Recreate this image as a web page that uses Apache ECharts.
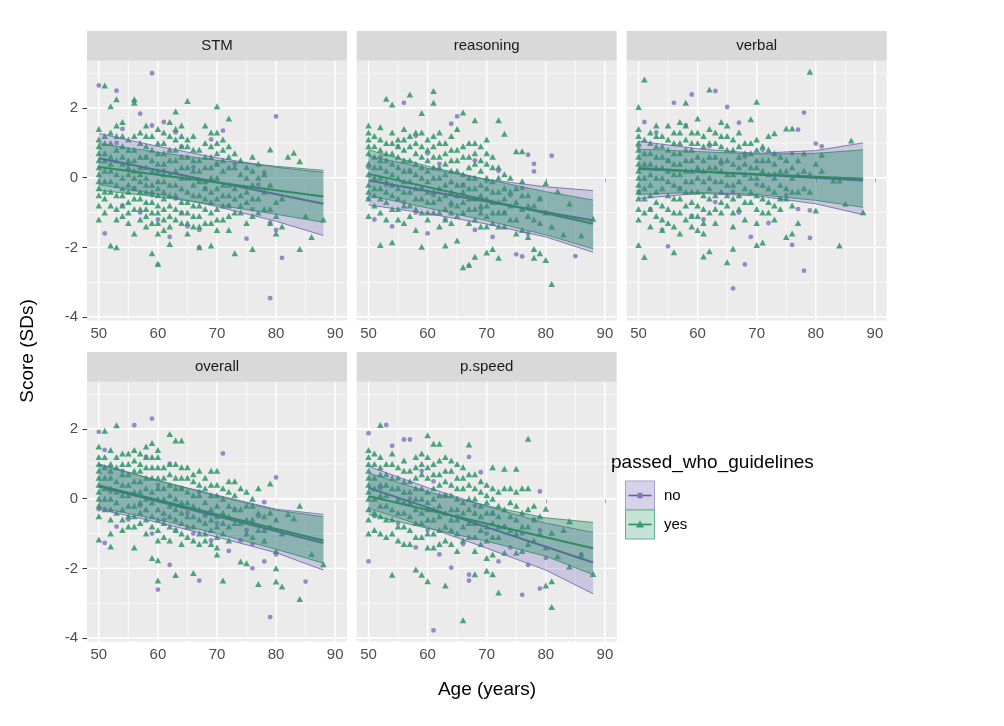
<!DOCTYPE html>
<html><head><meta charset="utf-8">
<script src="https://cdn.jsdelivr.net/npm/echarts@6/dist/echarts.min.js"></script>
<style>html,body{margin:0;padding:0;background:#fff}#c{width:1004px;height:726px}</style>
</head><body><div id="c"></div>
<script>
const panelNames = ['STM','reasoning','verbal','overall','p.speed'];
const groupNames = ['no','yes'];
const xTicks = [50,60,70,80,90];
const yTicks = [-4,-2,0,2];
const xMinor = [55,65,75,85];
const yMinor = [-3,-1,1,3];

// ---- points: "yes" as [age, [scores]], "no" as [age, score] ----
const stmYes = [
[50,[1.4,1.1,0.9,0.7,0.5,0.3,0.1,-0.1,-0.3,-0.5,-0.8,-1.2]],
[51,[2.65,1.2,1.0,0.7,0.5,0.2,-0.1,-0.4,-0.6,-1.0]],
[52,[2.05,1.3,1.0,0.6,0.4,0.2,-0.1,-0.4,-0.8,-1.95]],
[53,[2.25,1.5,1.2,0.8,0.5,0.1,-0.2,-0.5,-0.9,-1.2,-2.0]],
[54,[1.6,1.2,0.9,0.6,0.4,0.0,-0.3,-0.5,-0.8,-1.1]],
[55,[1.1,0.8,0.5,0.3,0.1,-0.2,-0.4,-0.7,-1.0,-1.3]],
[56,[2.25,2.15,1.2,0.8,0.5,0.2,0.0,-0.3,-0.6,-0.9,-1.6]],
[57,[1.3,1.0,0.6,0.3,0.1,-0.1,-0.4,-0.6,-0.9,-1.2]],
[58,[1.5,1.2,0.9,0.6,0.3,0.0,-0.2,-0.4,-0.7,-0.9,-1.1,-1.4]],
[59,[1.2,0.8,0.5,0.2,-0.2,-0.4,-0.7,-1.0,-1.3,-2.17]],
[60,[1.4,1.0,0.7,0.4,0.2,-0.1,-0.3,-0.5,-0.8,-1.0,-1.3,-1.6,-2.47]],
[61,[1.3,1.0,0.7,0.4,0.1,-0.1,-0.4,-0.6,-0.9,-1.2,-1.5]],
[62,[1.6,1.2,0.8,0.5,0.1,-0.2,-0.5,-0.8,-1.1,-1.4,-1.9]],
[63,[1.9,1.4,1.1,0.8,0.5,0.2,-0.2,-0.5,-0.9,-1.2]],
[64,[1.5,1.2,0.9,0.6,0.3,0.0,-0.3,-0.7,-1.0,-1.3]],
[65,[2.2,1.1,0.9,0.6,0.3,0.0,-0.4,-0.7,-1.0,-1.3,-1.6]],
[66,[1.2,0.8,0.5,0.2,-0.2,-0.5,-0.8,-1.1,-1.4]],
[67,[0.8,0.5,0.2,-0.1,-0.5,-0.8,-1.1,-1.4,-2.0]],
[68,[1.5,1.0,0.6,0.3,-0.1,-0.3,-0.6,-0.9,-1.3]],
[69,[1.3,0.9,0.6,0.3,0.0,-0.4,-0.7,-1.0,-1.3,-1.95]],
[70,[2.05,1.3,1.0,0.7,0.4,0.0,-0.3,-0.6,-0.9,-1.2,-1.5]],
[71,[1.1,0.8,0.5,0.2,-0.2,-0.5,-0.8,-1.2]],
[72,[1.7,0.9,0.6,0.3,-0.2,-0.5,-0.8,-1.1,-1.5]],
[73,[0.7,0.3,-0.3,-0.6,-1.0,-2.17]],
[74,[0.5,0.1,-0.5,-0.8,-1.0]],
[75,[0.3,0.0,-0.4,-0.7,-1.3]],
[76,[0.6,0.2,-0.2,-0.6,-1.1,-2.05]],
[77,[0.4,0.0,-0.6,-1.0]],
[78,[0.1,-0.4,-0.9]],
[79,[0.81,-0.2,-0.9,-1.3]],
[80,[-0.7,-1.1,-1.6]],
[81,[-0.6,-1.4]],
[82,[0.6]],[83,[0.72]],[84,[0.47,-2.05]],[85,[-1.1]],[86,[-1.7]],[88,[-1.2]]
];
const stmNo = [[50,2.65],[51,-1.6],[53,2.5],[53,1.0],[54,1.4],[54,-0.8],[55,0.4],[56,2.2],[56,-0.3],[57,1.84],[57,-1.0],[58,0.6],[59,3.0],[59,1.5],[59,-0.5],[60,-1.2],[60,-2.5],[61,1.6],[61,0.2],[62,-1.7],[63,1.3],[63,-0.6],[64,0.9],[64,-1.0],[65,-1.4],[66,0.3],[67,-1.5],[67,-2.0],[68,-0.3],[69,1.1],[70,0.4],[71,1.35],[72,-0.8],[73,0.4],[75,-1.75],[76,-0.9],[77,-0.2],[78,0.15],[79,-3.46],[79,-1.3],[80,1.76],[80,-1.5],[81,-2.3]];

const reasYes = [
[50,[1.5,1.3,1.1,0.9,0.7,0.4,0.1,-0.2,-0.4,-0.6,-1.1]],
[51,[1.2,0.9,0.6,0.3,0.0,-0.3,-0.5,-0.8]],
[52,[1.45,1.1,0.8,0.5,0.3,0.0,-0.3,-0.6,-1.0,-1.93]],
[53,[2.27,1.0,0.7,0.5,0.2,-0.1,-0.4,-0.7,-1.2]],
[54,[2.1,1.3,1.0,0.7,0.4,0.1,-0.2,-0.5,-0.9,-1.85]],
[55,[1.1,0.9,0.6,0.3,0.0,-0.3,-0.6,-0.9,-1.2]],
[56,[1.4,1.1,0.8,0.5,0.2,-0.1,-0.4,-0.8,-1.3]],
[57,[2.39,1.2,0.9,0.5,0.2,-0.1,-0.4,-0.8,-1.1]],
[58,[1.3,1.0,0.7,0.4,0.1,-0.3,-0.6,-0.9,-1.5]],
[59,[1.86,1.3,0.9,0.6,0.3,0.0,-0.3,-0.6,-1.0,-1.98]],
[60,[1.1,0.8,0.5,0.2,-0.1,-0.4,-0.7,-1.0,-1.2]],
[61,[2.49,2.15,1.2,0.9,0.6,0.3,0.0,-0.4,-0.7,-1.0]],
[62,[1.3,1.0,0.6,0.3,0.0,-0.3,-0.6,-1.0,-1.4]],
[63,[1.0,0.7,0.4,0.1,-0.2,-0.5,-0.9,-1.2,-1.95]],
[64,[1.2,0.8,0.5,0.2,-0.1,-0.4,-0.7,-1.0,-1.3]],
[65,[1.4,0.8,0.5,0.2,-0.2,-0.5,-0.8,-1.1,-1.8]],
[66,[1.87,0.9,0.6,0.1,-0.2,-0.4,-0.7,-1.0,-2.57]],
[67,[1.0,0.6,0.3,0.0,-0.3,-0.6,-0.9,-1.3,-2.5]],
[68,[1.65,1.0,0.7,0.4,0.0,-0.3,-0.6,-0.9,-1.2,-2.27]],
[69,[0.9,0.5,0.2,-0.2,-0.5,-0.8,-1.0,-1.4]],
[70,[1.1,0.7,0.4,0.0,-0.3,-0.6,-0.8,-1.1,-1.4,-2.15]],
[71,[0.6,0.3,-0.1,-0.4,-0.7,-1.0,-1.3,-2.05]],
[72,[1.65,0.3,0.0,-0.4,-0.7,-1.0,-1.4,-2.3]],
[73,[1.26,0.1,-0.3,-0.6,-1.0,-1.4]],
[74,[0.0,-0.4,-0.8,-1.2]],
[75,[0.76,-0.3,-0.7,-1.2,-1.6]],
[76,[0.76,-0.1,-0.5,-0.9,-1.5]],
[77,[-0.5,-0.8,-1.1,-1.7]],
[78,[-0.8,-1.2,-2.05,-2.3]],
[79,[-0.6,-1.3,-2.17]],
[80,[-0.15,-1.0,-2.36]],
[81,[-1.4,-3.05]],
[82,[-0.39]],[83,[-1.63]],[84,[-0.75]],[86,[-1.66]],[88,[-1.18]]
];
const reasNo = [[50,-0.6],[50,0.3],[51,-1.2],[52,0.6],[53,-0.2],[54,-1.4],[55,0.9],[56,2.15],[56,-0.7],[57,0.2],[58,1.2],[58,-1.0],[59,-0.3],[60,0.7],[60,-1.6],[61,-0.5],[62,0.4],[63,-1.2],[64,1.55],[64,-0.8],[65,1.76],[66,-0.2],[67,-2.53],[68,0.5],[68,-1.5],[69,-0.9],[70,-0.1],[71,-1.7],[72,0.2],[73,-1.0],[74,-0.5],[75,-2.2],[76,-2.26],[76,-0.3],[77,0.66],[77,-1.6],[78,0.4],[78,0.18],[79,-0.6],[80,-1.0],[81,0.63],[85,-2.25]];

const verbYes = [
[50,[2.03,1.4,1.2,1.0,0.8,0.6,0.4,0.2,0.0,-0.2,-0.4,-0.6,-0.9,-1.2,-1.93]],
[51,[2.82,1.1,0.7,0.4,0.0,-0.3,-0.6,-1.0,-2.28]],
[52,[1.3,1.0,0.7,0.4,0.1,-0.2,-0.5,-0.9,-1.4]],
[53,[1.5,1.2,0.9,0.6,0.3,0.0,-0.4,-0.7,-1.1]],
[54,[1.2,0.9,0.6,0.3,0.0,-0.3,-0.8,-1.2,-1.5]],
[55,[1.5,1.1,0.8,0.5,0.2,-0.1,-0.5,-0.9,-1.3]],
[56,[1.3,1.0,0.7,0.4,0.1,-0.2,-0.6,-1.0,-1.4,-2.14]],
[57,[1.6,1.3,1.0,0.7,0.4,0.1,-0.3,-0.6,-1.0,-1.6]],
[58,[2.15,1.5,1.1,0.8,0.5,0.2,-0.1,-0.4,-0.8,-1.2]],
[59,[1.3,1.0,0.8,0.5,0.2,-0.1,-0.4,-0.7,-1.1,-1.4]],
[60,[1.7,1.3,1.0,0.6,0.3,0.0,-0.4,-0.8,-1.1,-1.5]],
[61,[1.2,0.9,0.5,0.2,-0.1,-0.5,-0.9,-1.3,-1.6,-2.26]],
[62,[2.53,1.4,1.0,0.6,0.3,0.0,-0.3,-0.6,-1.0,-2.11]],
[63,[1.3,1.0,0.6,0.3,-0.1,-0.5,-0.9,-1.3]],
[64,[1.6,1.2,0.9,0.5,0.2,-0.1,-0.4,-0.7,-1.0]],
[65,[1.5,1.2,0.8,0.5,0.1,-0.2,-0.5,-0.8,-2.43]],
[66,[1.1,0.8,0.4,0.1,-0.2,-0.6,-1.0,-1.4,-2.04]],
[67,[1.3,0.9,0.6,0.3,-0.1,-0.5,-0.9]],
[68,[1.0,0.7,0.4,0.1,-0.3,-0.7,-1.2]],
[69,[1.68,1.0,0.7,0.3,0.0,-0.4,-0.7]],
[70,[2.18,1.1,0.8,0.5,0.3,0.0,-0.5,-0.9,-1.3,-1.93]],
[71,[0.9,0.5,0.2,-0.2,-0.6,-1.0,-1.86]],
[72,[1.2,0.8,0.5,0.1,-0.3,-0.7,-1.0]],
[73,[1.28,0.7,0.4,0.0,-0.4,-0.8,-1.2]],
[74,[0.6,0.2,-0.2,-0.6,-0.9]],
[75,[1.41,0.5,0.2,-0.3,-0.6,-1.7]],
[76,[1.41,0.3,0.0,-0.4,-0.8,-1.6]],
[77,[0.5,0.1,-0.4,-1.3]],
[78,[0.7,0.2,-0.3]],
[79,[3.04,0.1,-0.4]],
[80,[0.4,-0.94]],
[81,[0.66,0.2]],
[83,[-0.08]],[84,[-0.08,-1.95]],[85,[-0.75]],[86,[1.07]],[88,[-0.99]]
];
const verbNo = [[50,0.9],[50,-0.4],[51,1.6],[52,-0.9],[53,1.3],[54,-1.5],[55,-1.97],[55,0.5],[56,2.15],[57,-0.3],[58,1.5],[59,2.39],[59,-1.1],[60,0.2],[61,-1.2],[62,0.9],[63,2.49],[63,-0.7],[64,0.4],[65,2.03],[66,-3.18],[66,-0.4],[67,1.58],[67,-1.0],[68,-2.49],[68,0.6],[69,-1.7],[70,-0.2],[71,0.8],[72,-1.3],[73,0.1],[74,-0.6],[75,-0.5],[76,-1.93],[76,0.7],[77,1.38],[77,-0.9],[78,1.87],[78,-2.67],[79,-0.94],[79,-1.73],[80,0.98],[81,0.9]];

const overYes = [
[50,[1.5,1.2,1.0,0.8,0.6,0.4,0.2,0.0,-0.2,-0.5,-1.17]],
[51,[1.95,1.2,0.9,0.6,0.3,0.0,-0.3]],
[52,[1.4,1.0,0.8,0.6,0.3,0.0,-0.3,-0.6,-1.0,-1.37]],
[53,[2.11,1.2,0.9,0.5,0.2,-0.1,-0.4]],
[54,[1.3,1.0,0.7,0.4,0.1,-0.3,-0.6,-0.9]],
[55,[1.3,1.0,0.7,0.4,0.1,-0.2,-0.5,-0.8]],
[56,[1.4,1.1,0.8,0.5,0.2,-0.2,-0.5,-0.8,-1.4]],
[57,[1.3,1.0,0.8,0.5,0.2,-0.1,-0.4,-0.7]],
[58,[1.5,1.2,0.9,0.6,0.3,0.0,-0.3,-0.6,-1.0]],
[59,[1.6,1.2,0.9,0.6,0.2,-0.1,-0.5,-0.8,-1.7]],
[60,[1.4,1.2,0.9,0.6,0.3,0.0,-0.3,-0.6,-0.9,-1.2,-1.77,-2.35]],
[61,[0.9,0.6,0.3,0.0,-0.4,-0.7,-1.1]],
[62,[1.86,1.0,0.7,0.4,0.1,-0.2,-0.5,-0.8,-1.2]],
[63,[1.67,1.0,0.6,0.3,0.0,-0.3,-0.6,-0.9,-2.19]],
[64,[1.67,0.9,0.6,0.3,-0.1,-0.4,-0.7,-1.0,-1.3]],
[65,[0.9,0.6,0.2,-0.1,-0.5,-0.8,-1.1]],
[66,[0.7,0.5,0.1,-0.2,-0.5,-0.8,-1.2,-2.13]],
[67,[0.8,0.4,0.1,-0.3,-0.6,-1.0,-1.3]],
[68,[0.6,0.3,-0.1,-0.4,-0.7,-1.0,-1.2]],
[69,[0.8,0.4,0.1,-0.3,-0.6,-0.9,-1.3]],
[70,[0.8,0.4,0.1,-0.2,-0.5,-0.8,-1.1,-1.4,-1.6]],
[71,[0.3,0.0,-0.4,-0.7,-1.0,-2.35]],
[72,[0.5,0.2,-0.2,-0.5,-0.8,-1.2]],
[73,[0.5,0.1,-0.3,-0.7]],
[74,[0.3,-0.3,-0.7,-1.8]],
[75,[0.2,-0.2,-0.6,-1.0,-1.85]],
[76,[0.0,-0.2,-0.6,-1.1]],
[77,[0.3,-0.4,-0.9,-2.45]],
[78,[-0.5,-0.9,-1.2]],
[79,[0.44,-0.4,-0.8]],
[80,[-0.6,-1.5,-2.0,-2.38]],
[81,[-1.0,-2.52]],
[82,[-0.44]],[83,[-0.56]],[84,[-0.2,-2.88]],[86,[-1.59]],[88,[-1.88]]
];
const overNo = [[50,1.92],[50,-0.3],[51,-1.27],[51,1.4],[52,0.2],[53,-0.8],[54,0.8],[55,-0.6],[56,2.11],[57,-0.2],[58,1.2],[59,2.3],[59,-1.0],[60,0.4],[60,-2.61],[61,-0.6],[62,-1.9],[62,1.0],[63,-0.9],[64,0.3],[65,-0.4],[66,-1.0],[67,-2.35],[67,0.2],[68,-0.5],[69,-1.2],[70,-0.7],[71,1.3],[72,-1.5],[73,-0.3],[74,-1.2],[75,-0.9],[76,-2.0],[76,-1.3],[77,-0.5],[78,-0.1],[78,-1.8],[79,-3.4],[80,0.61],[80,-1.6],[85,-2.38]];

const pspYes = [
[50,[1.4,1.2,1.0,0.8,0.6,0.4,0.2,0.0,-0.3,-0.6,-1.0]],
[51,[1.3,1.0,0.6,0.3,0.0,-0.4,-0.9]],
[52,[2.12,1.2,0.9,0.7,0.4,0.1,-0.2,-0.5,-1.0]],
[53,[1.0,0.7,0.4,0.1,-0.2,-0.6,-1.1]],
[54,[1.3,1.0,0.6,0.3,-0.3,-0.6,-1.0,-2.18]],
[55,[0.9,0.6,0.3,0.0,-0.4,-0.8,-1.2]],
[56,[1.1,0.8,0.5,0.2,-0.1,-0.4,-0.8,-1.3]],
[57,[0.8,0.5,0.2,-0.1,-0.5,-0.9,-1.3]],
[58,[1.2,0.9,0.6,0.3,0.0,-0.3,-0.7,-1.1,-2.03]],
[59,[1.3,1.0,0.7,0.3,0.0,-0.4,-0.7,-1.1,-2.18]],
[60,[1.82,1.2,0.9,0.6,0.2,-0.1,-0.3,-0.6,-1.0,-1.4,-2.37]],
[61,[1.58,1.0,0.7,0.3,0.0,-0.3,-0.6,-1.0,-1.4]],
[62,[1.58,1.1,0.7,0.4,0.1,-0.2,-0.5,-0.9,-1.3]],
[63,[1.2,0.8,0.5,0.1,-0.4,-0.8,-1.2,-2.49]],
[64,[1.1,0.8,0.4,0.1,-0.3,-0.6,-0.9,-1.3]],
[65,[1.0,0.6,0.3,0.0,-0.3,-0.6,-1.0,-1.5]],
[66,[0.9,0.6,0.3,-0.1,-0.4,-0.8,-1.2,-3.49]],
[67,[1.56,0.7,0.4,0.0,-0.3,-0.7,-1.1]],
[68,[0.7,0.3,0.0,-0.4,-0.7,-1.1,-1.5,-2.17]],
[69,[0.5,0.2,-0.2,-0.5,-0.9,-1.3]],
[70,[0.4,0.1,-0.1,-0.4,-0.8,-1.2,-1.7,-2.07]],
[71,[0.9,0.3,0.0,-0.4,-0.7,-1.1,-1.6,-2.17]],
[72,[0.2,-0.2,-0.5,-0.8,-1.1,-2.69]],
[73,[0.86,0.3,-0.3,-0.8,-1.55]],
[74,[0.3,-0.1,-0.5,-0.9]],
[75,[0.86,0.2,-0.2,-0.6,-1.0,-1.55]],
[76,[0.3,-0.4,-0.8,-1.5]],
[77,[1.72,0.3,-0.3,-0.8,-1.3]],
[78,[-0.2,-0.6,-1.2]],
[79,[-0.5,-1.0]],
[80,[-0.29,-1.4,-2.49]],
[81,[-0.98,-2.37,-3.11]],
[82,[-1.65]],[83,[-0.9]],[84,[-0.65,-1.95]],[86,[-1.6]],[88,[-2.16]]
];
const pspNo = [[50,1.88],[50,-1.8],[51,-0.5],[52,0.3],[53,2.12],[54,1.52],[55,-0.7],[56,1.7],[57,1.7],[57,0.0],[58,-1.4],[59,0.8],[60,-0.9],[61,-3.78],[61,0.5],[62,-1.6],[63,0.1],[64,-1.98],[65,-0.5],[66,-1.3],[67,1.2],[67,-2.18],[67,-2.35],[68,-0.2],[69,0.76],[70,-1.0],[71,-0.4],[72,-1.8],[73,-0.8],[74,-1.4],[76,-2.76],[76,-1.0],[77,-1.9],[78,-0.6],[79,0.21],[79,-0.9],[79,-2.58],[80,-1.7],[86,-1.6]];

// ---- fitted lines [age, score] and confidence bands [age, lower, upper] ----
const stmLineNo = [[50,0.56],[88,-0.75]];
const stmLineYes = [[50,0.31],[88,-0.54]];
const stmBandNo = [[50,-0.2,1.27],[60,-0.47,0.9],[70,-0.83,0.57],[80,-1.25,0.3],[88,-1.66,0.15]];
const stmBandYes = [[50,-0.36,0.98],[60,-0.55,0.73],[70,-0.78,0.5],[80,-1.05,0.33],[88,-1.28,0.21]];
const reasLineNo = [[50,-0.08],[88,-1.23]];
const reasLineYes = [[50,0.11],[88,-1.32]];
const reasBandNo = [[50,-0.78,0.62],[60,-1.03,0.27],[70,-1.33,-0.05],[80,-1.7,-0.26],[88,-2.14,-0.37]];
const reasBandYes = [[50,-0.51,0.8],[60,-0.87,0.33],[70,-1.23,-0.05],[80,-1.64,-0.4],[88,-2.04,-0.64]];
const verbLineNo = [[50,0.28],[88,-0.08]];
const verbLineYes = [[50,0.25],[88,-0.03]];
const verbBandNo = [[50,-0.6,1.05],[60,-0.45,0.83],[70,-0.52,0.7],[80,-0.75,0.78],[88,-1.06,1.0]];
const verbBandYes = [[50,-0.48,0.82],[60,-0.42,0.75],[70,-0.48,0.68],[80,-0.65,0.7],[88,-0.85,0.8]];
const overLineNo = [[50,0.35],[88,-1.27]];
const overLineYes = [[50,0.38],[88,-1.2]];
const overBandNo = [[50,-0.3,1.0],[60,-0.68,0.52],[70,-1.1,0.1],[80,-1.55,-0.3],[88,-2.05,-0.45]];
const overBandYes = [[50,-0.25,0.98],[60,-0.6,0.52],[70,-1.0,0.08],[80,-1.45,-0.33],[88,-1.85,-0.52]];
const pspLineNo = [[50,0.31],[88,-1.83]];
const pspLineYes = [[50,0.07],[88,-1.42]];
const pspBandNo = [[50,-0.27,0.93],[60,-0.82,0.32],[70,-1.42,-0.22],[80,-2.05,-0.7],[88,-2.73,-0.97]];
const pspBandYes = [[50,-0.46,0.74],[60,-0.85,0.2],[70,-1.22,-0.2],[80,-1.65,-0.55],[88,-2.18,-0.68]];

// ---- build ----
const FONT = '"Liberation Sans", Arial, Helvetica, sans-serif';
const C = {
  noPt: '#8478BF', yesPt: '#3A9A70',
  noLine: '#6A5DAE', yesLine: '#2E8B62',
  noFill: '#7B70BC', yesFill: '#2A9068'
};
const flat = arr => arr.flatMap(([x, ys]) => ys.map(y => [x, y]));
const panels = [
  [stmYes, stmNo, stmLineNo, stmLineYes, stmBandNo, stmBandYes],
  [reasYes, reasNo, reasLineNo, reasLineYes, reasBandNo, reasBandYes],
  [verbYes, verbNo, verbLineNo, verbLineYes, verbBandNo, verbBandYes],
  [overYes, overNo, overLineNo, overLineYes, overBandNo, overBandYes],
  [pspYes, pspNo, pspLineNo, pspLineYes, pspBandNo, pspBandYes]
];
const boxes = [[87,60.7],[356.7,60.7],[626.7,60.7],[87,381.7],[356.7,381.7]];
const W = 260, H = 259.8, STRIP = 29.6;
const X_MIN = 48, X_MAX = 92, Y_MIN = -4.1, Y_MAX = 3.36;

function gridRender(width) {
  return function (params, api) {
    const cs = params.coordSys;
    const p = api.coord([api.value(0), api.value(1)]);
    const horiz = api.value(2) === 0;
    return {
      type: 'line',
      shape: horiz ? {x1: cs.x, y1: p[1], x2: cs.x + cs.width, y2: p[1]}
                   : {x1: p[0], y1: cs.y, x2: p[0], y2: cs.y + cs.height},
      style: {stroke: '#FFFFFF', lineWidth: width}
    };
  };
}
function bandRender(fill, opacity) {
  return function (params, api) {
    if (params.dataIndexInside !== 0) return null;
    const n = params.dataInsideLength;
    const lo = [], up = [];
    for (let i = 0; i < n; i++) {
      const x = api.value(0, i);
      lo.push(api.coord([x, api.value(1, i)]));
      up.push(api.coord([x, api.value(2, i)]));
    }
    return {type: 'polygon', shape: {points: lo.concat(up.reverse())}, style: {fill: fill, opacity: opacity}};
  };
}

const grid = [], xAxis = [], yAxis = [], series = [], graphic = [];
boxes.forEach(([l, t], i) => {
  grid.push({left: l, top: t, width: W, height: H, show: true, backgroundColor: '#EBEBEB', borderWidth: 0});
  xAxis.push({
    type: 'value', gridIndex: i, min: X_MIN, max: X_MAX,
    axisLine: {show: false},
    axisTick: {show: true, length: 4.5, customValues: xTicks, lineStyle: {color: '#333333', width: 1}},
    axisLabel: {show: true, customValues: xTicks, color: '#4D4D4D', fontSize: 15, margin: 6, fontFamily: FONT},
    splitLine: {show: false}
  });
  const col0 = (i === 0 || i === 3);
  yAxis.push({
    type: 'value', gridIndex: i, min: Y_MIN, max: Y_MAX,
    axisLine: {show: false},
    axisTick: {show: col0, length: 4.5, customValues: yTicks, lineStyle: {color: '#333333', width: 1}},
    axisLabel: {show: col0, customValues: yTicks, color: '#4D4D4D', fontSize: 15, margin: 9, fontFamily: FONT},
    splitLine: {show: false}
  });
  const [yes, no, lineNo, lineYes, bandNo, bandYes] = panels[i];
  const ax = {xAxisIndex: i, yAxisIndex: i, silent: true, animation: false};
  series.push(Object.assign({type: 'custom', z: 1, renderItem: gridRender(0.7), encode: {x: 0, y: 1},
    data: xMinor.map(v => [v, 0, 1]).concat(yMinor.map(v => [70, v, 0]))}, ax));
  series.push(Object.assign({type: 'custom', z: 1, renderItem: gridRender(1.4), encode: {x: 0, y: 1},
    data: xTicks.map(v => [v, 0, 1]).concat(yTicks.map(v => [70, v, 0]))}, ax));
  series.push(Object.assign({type: 'scatter', name: groupNames[0], z: 2, symbol: 'circle', symbolSize: 4.8,
    itemStyle: {color: C.noPt, opacity: 0.85}, data: no}, ax));
  series.push(Object.assign({type: 'scatter', name: groupNames[1], z: 3, symbol: 'triangle', symbolSize: [6.6, 6],
    itemStyle: {color: C.yesPt, opacity: 0.9}, data: flat(yes)}, ax));
  const addFit = (band, line, fill, op, col, z) => {
    series.push(Object.assign({type: 'custom', z: z, renderItem: bandRender(fill, op), encode: {x: 0, y: [1, 2]},
      dimensions: ['x', 'lo', 'hi'], data: band}, ax));
    series.push(Object.assign({type: 'line', z: z + 1, symbol: 'none', lineStyle: {color: col, width: 0.8},
      data: band.map(r => [r[0], r[1]])}, ax));
    series.push(Object.assign({type: 'line', z: z + 1, symbol: 'none', lineStyle: {color: col, width: 0.8},
      data: band.map(r => [r[0], r[2]])}, ax));
    series.push(Object.assign({type: 'line', z: z + 1, symbol: 'none', lineStyle: {color: col, width: 2},
      data: line}, ax));
  };
  addFit(bandNo, lineNo, C.noFill, 0.3, C.noLine, 4);
  addFit(bandYes, lineYes, C.yesFill, 0.38, C.yesLine, 6);
  // strip
  graphic.push({type: 'rect', silent: true, shape: {x: l, y: t - STRIP, width: W, height: STRIP}, style: {fill: '#D9D9D9'}});
  graphic.push({type: 'text', silent: true, x: l + W / 2, y: t - STRIP / 2,
    style: {text: panelNames[i], fill: '#1A1A1A', font: '15px ' + FONT, textAlign: 'center', textVerticalAlign: 'middle'}});
});

// axis titles
graphic.push({type: 'text', silent: true, x: 487, y: 690,
  style: {text: 'Age (years)', fill: '#000', font: '19px ' + FONT, textAlign: 'center', textVerticalAlign: 'middle'}});
graphic.push({type: 'text', silent: true, x: 28, y: 351, rotation: Math.PI / 2,
  style: {text: 'Score (SDs)', fill: '#000', font: '19px ' + FONT, textAlign: 'center', textVerticalAlign: 'middle'}});

// legend
const LX = 625.5, LY = 481;
graphic.push({type: 'text', silent: true, x: 611, y: 463,
  style: {text: 'passed_who_guidelines', fill: '#000', font: '19px ' + FONT, textAlign: 'left', textVerticalAlign: 'middle'}});
graphic.push({type: 'rect', silent: true, shape: {x: LX, y: LY, width: 29, height: 29}, style: {fill: '#D6D3E9', stroke: '#A69FD0', lineWidth: 1}});
graphic.push({type: 'line', silent: true, shape: {x1: LX + 3, y1: LY + 14.5, x2: LX + 26, y2: LY + 14.5}, style: {stroke: C.noLine, lineWidth: 1.6}});
graphic.push({type: 'circle', silent: true, shape: {cx: LX + 14.5, cy: LY + 14.5, r: 3}, style: {fill: C.noPt}});
graphic.push({type: 'rect', silent: true, shape: {x: LX, y: LY + 29, width: 29, height: 29}, style: {fill: '#C4E2D5', stroke: '#62B08D', lineWidth: 1}});
graphic.push({type: 'line', silent: true, shape: {x1: LX + 3, y1: LY + 43.5, x2: LX + 26, y2: LY + 43.5}, style: {stroke: C.yesLine, lineWidth: 1.6}});
graphic.push({type: 'polygon', silent: true, shape: {points: [[LX + 14.5, LY + 39.5], [LX + 18.5, LY + 46.5], [LX + 10.5, LY + 46.5]]}, style: {fill: C.yesPt}});
graphic.push({type: 'text', silent: true, x: 664, y: LY + 14.5,
  style: {text: groupNames[0], fill: '#000', font: '15px ' + FONT, textAlign: 'left', textVerticalAlign: 'middle'}});
graphic.push({type: 'text', silent: true, x: 664, y: LY + 43.5,
  style: {text: groupNames[1], fill: '#000', font: '15px ' + FONT, textAlign: 'left', textVerticalAlign: 'middle'}});

const chart = echarts.init(document.getElementById('c'), null, {renderer: 'canvas'});
chart.setOption({backgroundColor: '#FFFFFF', animation: false, grid, xAxis, yAxis, series, graphic});
</script></body></html>
